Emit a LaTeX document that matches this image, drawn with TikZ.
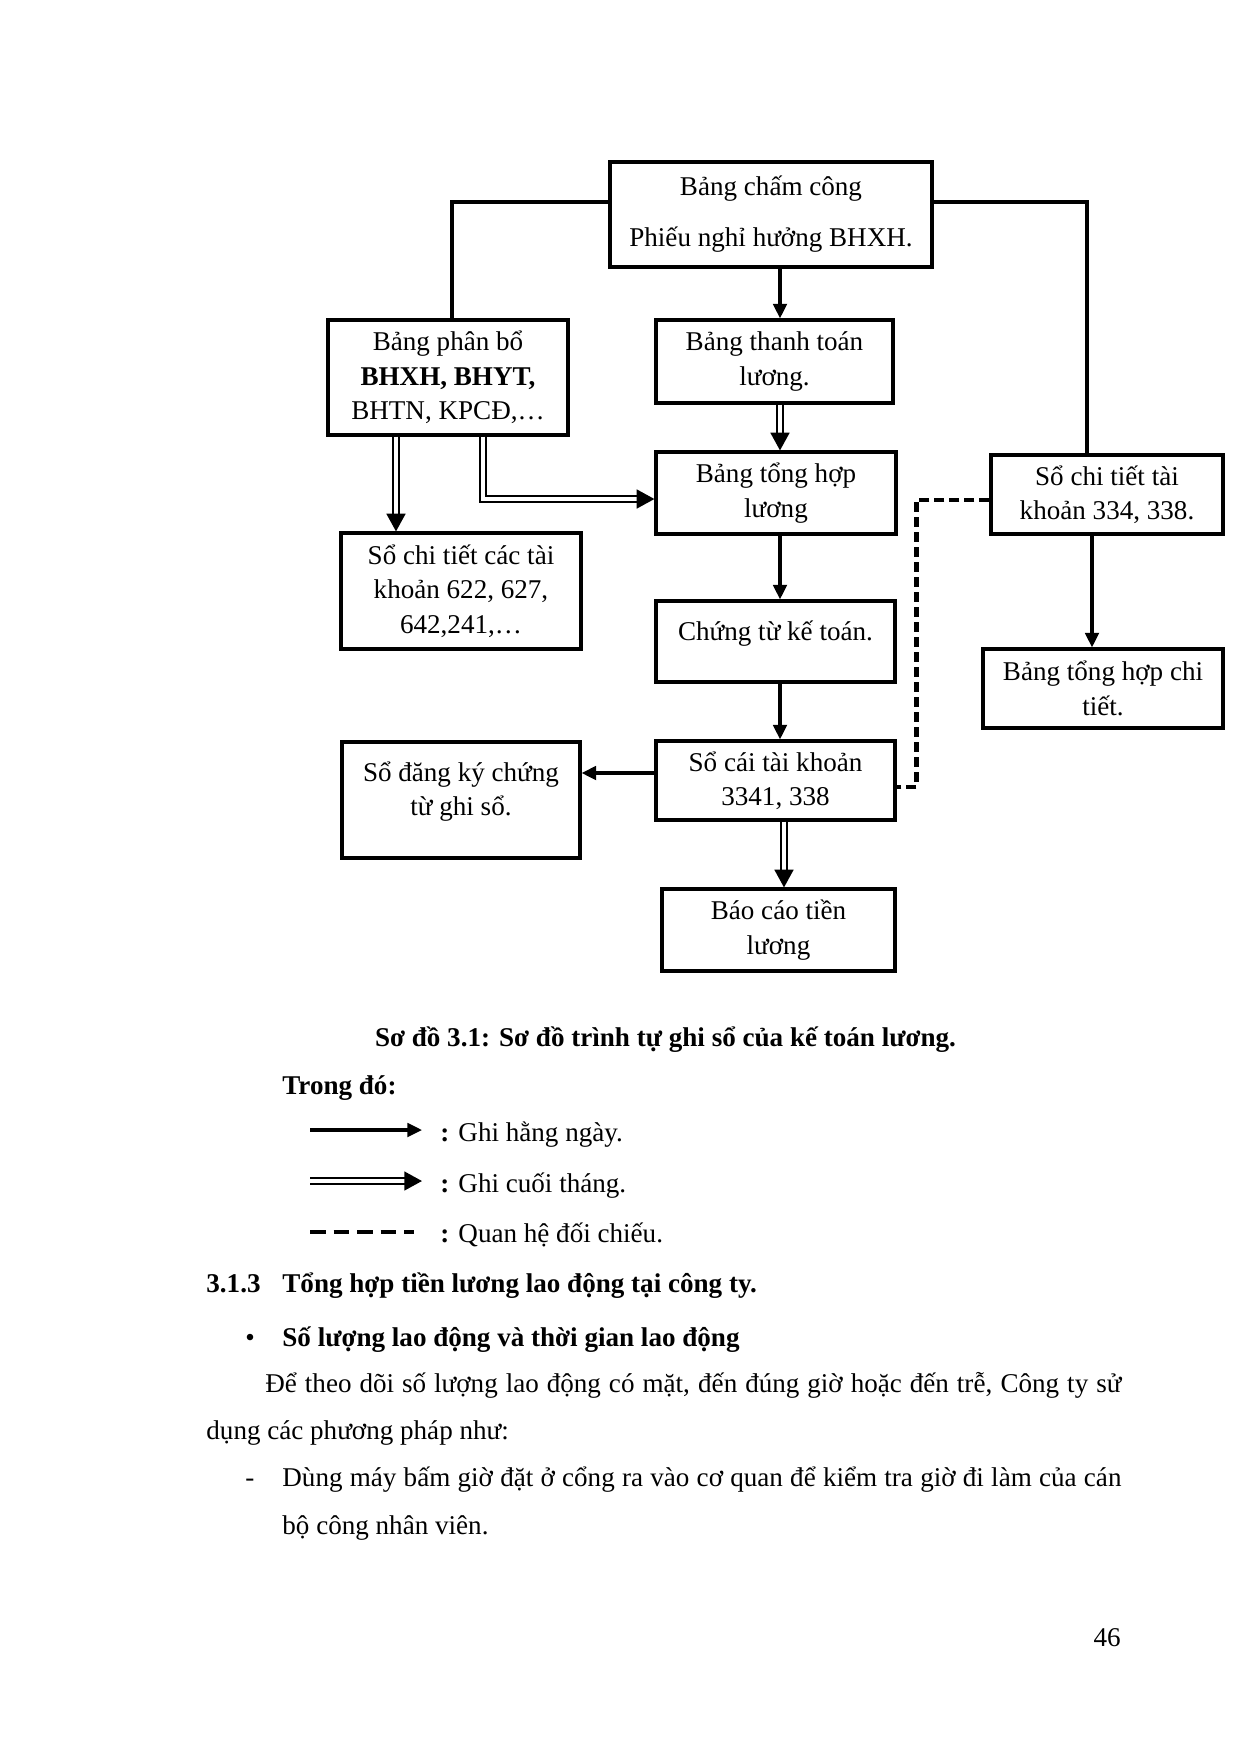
\documentclass[tikz,border=0pt]{standalone}
\usepackage{fontspec}
\setmainfont{Liberation Serif}
\usetikzlibrary{arrows.meta}
\newlength\pxu
\setlength\pxu{0.48bp}

\begin{document}
\begin{tikzpicture}[x=0.48bp, y=-0.48bp,
        every node/.style={font=\fontsize{13bp}{16.5bp}\selectfont},
        box/.style={rectangle, draw, line width=1.5bp, align=center, inner sep=0pt},
        link/.style={line width=1.5bp},
        daily/.style={line width=1.5bp, -{Triangle[length=7bp, width=6.5bp]}},
        monthly/.style={double, line width=1.1bp, double distance=1.5bp, -{Triangle[length=8.5bp, width=9bp]}},
        compare/.style={line width=2bp, dash pattern=on 5bp off 2.2bp},
        txt/.style={anchor=base west, inner sep=0pt}]
        \useasboundingbox (0,0) rectangle (1240,1754);

        \node[box, minimum width=322\pxu, minimum height=105\pxu] (cham) at (771,214.5) {Bảng chấm công\\[8bp]Phiếu nghỉ hưởng BHXH.};
        \node[box, minimum width=240\pxu, minimum height=115\pxu] (phanbo) at (448,377.5) {Bảng phân bổ\\\textbf{BHXH, BHYT,}\\BHTN, KPCĐ,…};
        \node[box, minimum width=237\pxu, minimum height=83\pxu] (thanhtoan) at (774.5,361.5) {Bảng thanh toán\\lương.};
        \node[box, minimum width=240\pxu, minimum height=82\pxu] (tonghop) at (776,493) {Bảng tổng hợp\\lương};
        \node[box, minimum width=240\pxu, minimum height=116\pxu] (sct) at (461,591) {Sổ chi tiết các tài\\khoản 622, 627,\\642,241,…};
        \node[box, minimum width=239\pxu, minimum height=81\pxu,
            label={[yshift=4bp]center:Chứng từ kế toán.}] (chungtu) at (775.5,641.5) {};
        \node[box, minimum width=239\pxu, minimum height=79\pxu] (socai) at (775.5,780.5) {Sổ cái tài khoản\\3341, 338};
        \node[box, minimum width=238\pxu, minimum height=116\pxu,
            label={[yshift=4bp, align=center]center:Sổ đăng ký chứng\\từ ghi sổ.}] (dangky) at (461,800) {};
        \node[box, minimum width=233\pxu, minimum height=82\pxu] (baocao) at (778.5,930) {Báo cáo tiền\\lương};
        \node[box, minimum width=232\pxu, minimum height=79\pxu] (sct334) at (1107,494.5) {Sổ chi tiết tài\\khoản 334, 338.};
        \node[box, minimum width=240\pxu, minimum height=79\pxu] (thct) at (1103,688.5) {Bảng tổng hợp chi\\tiết.};

        \draw[link] (cham.west |- 0,202) -| (phanbo.north -| 452,0);
        \draw[link] (cham.east |- 0,202) -| (sct334.north -| 1087,0);
        \draw[daily] (cham.south -| 780,0) -- (thanhtoan.north -| 780,0);
        \draw[monthly] (thanhtoan.south -| 780,0) -- (tonghop.north -| 780,0);
        \draw[daily] (tonghop.south -| 780,0) -- (chungtu.north -| 780,0);
        \draw[daily] (chungtu.south -| 780,0) -- (socai.north -| 780,0);
        \draw[monthly] (socai.south -| 784,0) -- (baocao.north -| 784,0);
        \draw[daily] (socai.west |- 0,773) -- (dangky.east |- 0,773);
        \draw[monthly] (phanbo.south -| 396,0) -- (sct.north -| 396,0);
        \draw[monthly] (phanbo.south -| 483,0) |- (tonghop.west |- 0,499);
        \draw[daily] (sct334.south -| 1092,0) -- (thct.north -| 1092,0);
        \draw[compare] (sct334.west |- 0,500) -- ++(-73,0) |- (socai.east |- 0,787);

        \node[txt, anchor=base] (caption) at (665.5,1046) {\textbf{Sơ đồ 3.1: Sơ đồ trình tự ghi sổ của kế toán lương.}};
        \node[txt] (trongdo) at (282,1094) {\textbf{Trong đó:}};

        \coordinate (d1) at (310,1130);
        \coordinate (d2) at (422,1130);
        \coordinate (m1) at (310,1181);
        \coordinate (m2) at (422,1181);
        \coordinate (c1) at (310,1232);
        \coordinate (c2) at (414,1232);
        \draw[daily] (d1) -- (d2);
        \draw[monthly] (m1) -- (m2);
        \draw[compare, dash pattern=on 7.5bp off 3.8bp] (c1) -- (c2);
        \node[txt] (ldaily) at (440,1141) {\textbf{:} Ghi hằng ngày.};
        \node[txt] (lmonthly) at (440,1192) {\textbf{:} Ghi cuối tháng.};
        \node[txt] (lcompare) at (440,1242) {\textbf{:} Quan hệ đối chiếu.};

        \node[txt] (secnum) at (206,1292) {\textbf{3.1.3}};
        \node[txt] (sectitle) at (282,1292) {\textbf{Tổng hợp tiền lương lao động tại công ty.}};
        \node[txt] (bullet) at (245,1346) {•};
        \node[txt] (subtitle) at (282,1346) {\textbf{Số lượng lao động và thời gian lao động}};
        \node[txt] (para1) at (265,1392) {\makebox[856\pxu][s]{Để theo dõi số lượng lao động có mặt, đến đúng giờ hoặc đến trễ, Công ty sử}};
        \node[txt] (para2) at (206,1439) {dụng các phương pháp như:};
        \node[txt] (dash) at (245,1486) {-};
        \node[txt] (item1) at (282,1486) {\makebox[839\pxu][s]{Dùng máy bấm giờ đặt ở cổng ra vào cơ quan để kiểm tra giờ đi làm của cán}};
        \node[txt] (item2) at (282,1534) {bộ công nhân viên.};
        \node[txt, anchor=base east] (pageno) at (1121,1646) {46};
\end{tikzpicture}
\end{document}
